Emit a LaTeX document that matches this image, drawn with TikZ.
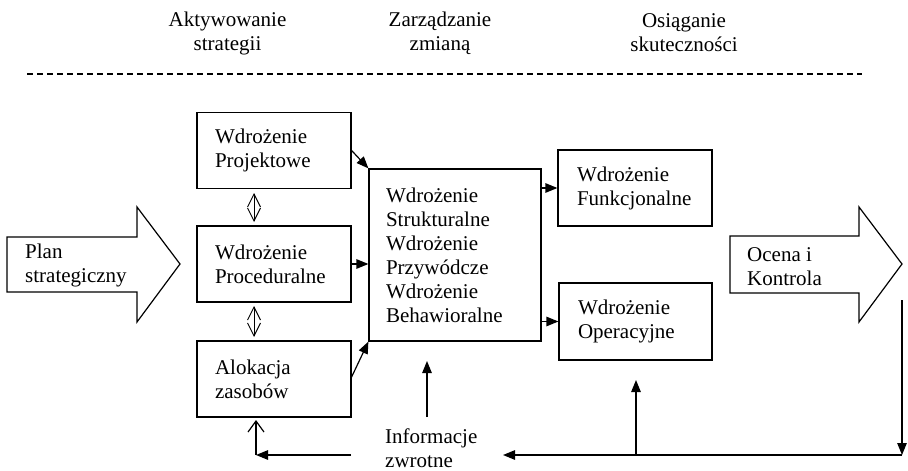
\documentclass[tikz,border=0pt]{standalone}
\usepackage{fontspec}
\setmainfont{Liberation Serif}
\usetikzlibrary{arrows.meta}
\begin{document}
\begin{tikzpicture}[x=1pt,y=-1pt,
  every node/.style={font=\fontsize{21}{24}\selectfont},
  ln/.style={line width=1.2pt},
  boxnode/.style={draw, line width=1.2pt, align=left, inner ysep=0pt, inner xsep=18pt,
    text width=118pt, minimum width=154pt, minimum height=76pt},
  txt/.style={align=left, inner sep=0pt, anchor=west},
  hdr/.style={align=center, inner sep=0pt},
  arr/.style={ln, -{Triangle[length=12pt,width=9.5pt]}},
  dbl/.style={line width=0.9pt, {Straight Barb[length=13pt,width=13pt]}-{Straight Barb[length=13pt,width=13pt]}},
  barb/.style={ln, -{Straight Barb[length=11pt,width=16pt]}}]
\useasboundingbox (0,0) rectangle (908,471);
% headers
\node[hdr] (h1) at (227.5,33) {Aktywowanie\\strategii};
\node[hdr] (h2) at (440,33) {Zarządzanie\\zmianą};
\node[hdr] (h3) at (684,33) {Osiąganie\\skuteczności};
\coordinate (dl) at (27,74);
\coordinate (dr) at (862,74);
\draw[ln, dash pattern=on 6pt off 4pt] (dl) -- (dr);
% big arrows
\draw[ln] (7,237) -- (137,237) -- (137,207) -- (180,264) -- (137,322) -- (137,292) -- (7,292) -- cycle;
\node[txt] (plan) at (25,265.5) {Plan\\strategiczny};
\draw[ln] (730,236) -- (859,236) -- (859,207) -- (902,264) -- (859,322) -- (859,293) -- (730,293) -- cycle;
\node[txt] (ocena) at (747,266.5) {Ocena i\\Kontrola};
% boxes
\node[boxnode] (proj) at (274,150.5) {Wdrożenie\\Projektowe};
\node[boxnode] (proc) at (274,264) {Wdrożenie\\Proceduralne};
\node[boxnode] (alok) at (274,379) {Alokacja\\zasobów};
\node[boxnode, inner xsep=17pt, text width=138pt, minimum width=172pt, minimum height=172pt] (cen) at (455,255)
  {Wdrożenie\\Strukturalne\\Wdrożenie\\Przywódcze\\Wdrożenie\\Behawioralne};
\node[boxnode, inner xsep=19pt, text width=116pt] (funk) at (635,188) {Wdrożenie\\Funkcjonalne};
\node[boxnode, inner xsep=19pt, text width=115pt, minimum width=153pt, minimum height=77pt] (oper) at (635.5,321.5) {Wdrożenie\\Operacyjne};
% double arrows
\coordinate (d1t) at (254,193);
\coordinate (d1b) at (254,222);
\coordinate (d2t) at (254,306);
\coordinate (d2b) at (254,337);
\draw[dbl] (d1t) -- (d1b);
\draw[dbl] (d2t) -- (d2b);
% arrows into center
\draw[arr] (proj.east) -- (cen.north west);
\draw[arr] (proc.east) -- (proc.east -| cen.west);
\draw[arr] (alok.east) ++(0,-2) -- (cen.south west);
\draw[arr] (funk.west -| cen.east) -- (funk.west);
\draw[arr] (oper.west -| cen.east) -- (oper.west);
% feedback
\node[txt] (info) at (385,448) {Informacje\\zwrotne};
\coordinate (fbl) at (351,455);
\coordinate (fbc) at (256,455);
\coordinate (fbu) at (256,420);
\draw[arr] (fbl) -- (fbc);
\draw[barb] (fbc) -- (fbu);
\coordinate (fbm) at (427,417);
\coordinate (fbmt) at (427,361);
\draw[arr] (fbm) -- (fbmt);
\coordinate (rt) at (902,300);
\coordinate (rb) at (902,455);
\coordinate (rl) at (503,455);
\coordinate (ro) at (636,455);
\coordinate (rot) at (636,380);
\draw[arr] (rt) -- (rb);
\draw[arr] (rb) -- (rl);
\draw[arr] (ro) -- (rot);
\end{tikzpicture}
\end{document}
